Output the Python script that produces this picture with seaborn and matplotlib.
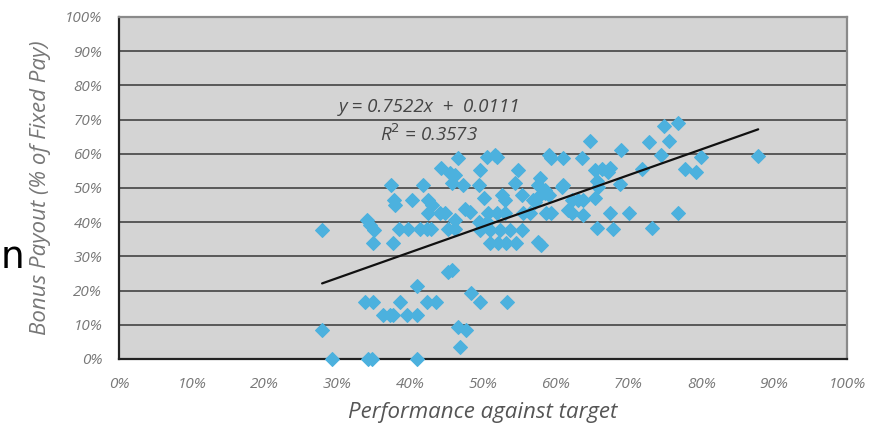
import numpy as np
import pandas as pd
import matplotlib
matplotlib.use("Agg")
import matplotlib.pyplot as plt
import seaborn as sns

# performance against target (%) and bonus payout (% of fixed pay)
PERF = [
    29.3, 34.2, 34.7, 40.9,
    46.8,
    27.9, 46.5, 47.7,
    36.3, 37.2, 37.7, 39.5, 40.9,
    33.8, 34.9, 38.6, 42.3, 43.6, 49.6, 53.3,
    48.4, 41.0, 45.2, 45.7,
    34.9, 37.7, 51.0, 52.1, 53.2, 54.6, 57.6, 58.0,
    27.9, 34.5, 35.0, 38.4, 39.7, 41.3, 42.3, 42.9, 45.2, 46.2, 49.6, 51.0,
    52.3, 53.7, 55.3, 65.6, 67.9, 73.2,
    34.0, 46.2, 49.4, 50.5,
    42.5, 44.1, 44.8, 47.5, 48.2, 50.7, 51.9, 53.0, 55.5, 56.5, 58.7, 59.4,
    61.7, 62.2, 63.8, 67.4, 70.0, 76.8,
    37.8, 37.9, 40.2, 42.5, 43.0, 50.1, 52.6, 53.0, 55.3, 56.9, 57.1, 57.4,
    58.5, 59.0, 62.2, 63.1, 63.8, 65.4,
    37.4, 41.8, 45.7, 47.3, 49.4, 54.4, 57.6, 58.5, 60.8, 61.0, 65.6, 65.8, 68.8,
    44.3, 45.5, 46.2, 49.6, 54.8, 57.8, 65.4, 66.3, 67.2, 67.4, 71.8, 77.7, 79.3,
    46.6, 50.5, 51.6, 51.9, 59.0, 59.4, 61.0, 63.6, 74.5, 80.0, 87.8,
    69.0,
    64.7, 72.8, 75.6,
    74.8, 76.8,
]
PAYOUT = [
    0, 0, 0, 0,
    3.6,
    8.5, 9.4, 8.5,
    12.9, 12.9, 12.9, 12.9, 12.9,
    16.8, 16.8, 16.8, 16.8, 16.8, 16.8, 16.8,
    19.2, 21.4, 25.5, 26.0,
    33.8, 33.8, 33.8, 33.8, 33.8, 33.8, 34.3, 33.3,
    37.8, 39.2, 37.7, 37.9, 37.9, 37.9, 37.9, 37.9, 37.9, 37.9, 37.7, 37.7,
    37.7, 37.7, 37.7, 38.2, 37.9, 38.2,
    40.6, 40.6, 40.1, 40.1,
    42.6, 42.6, 42.6, 44.0, 43.0, 42.6, 42.6, 42.6, 42.6, 42.6, 42.6, 42.6,
    43.6, 42.6, 42.1, 42.6, 42.6, 42.6,
    46.5, 45.0, 46.5, 46.5, 45.0, 47.0, 48.0, 46.5, 48.0, 46.5, 46.0, 47.0,
    48.4, 48.0, 46.5, 46.5, 46.5, 47.0,
    50.9, 50.9, 51.4, 50.9, 50.9, 51.4, 50.9, 49.4, 50.4, 51.0, 51.9, 50.4, 51.2,
    55.8, 54.3, 53.8, 55.3, 55.3, 52.8, 55.3, 55.5, 54.8, 55.8, 55.5, 55.5, 54.8,
    58.7, 59.2, 59.6, 59.2, 59.6, 58.7, 58.7, 58.7, 59.6, 59.2, 59.4,
    61.1,
    63.8, 63.4, 63.8,
    68.2, 68.9,
]

# trendline as printed on the chart
SLOPE = 0.7522
INTERCEPT = 0.0111
R2 = 0.3573

X_TICKS = np.arange(0, 101, 10)
Y_TICKS = np.arange(0, 101, 10)

FONT = ["Open Sans", "DejaVu Sans"]
DOT_BLUE = "#4cb1de"


def plot_bonus():
    df = pd.DataFrame({"perf": PERF, "payout": PAYOUT})

    sns.set_style("white")
    plt.rcParams["font.family"] = FONT

    fig = plt.figure(figsize=(8.8, 4.29), dpi=100)
    ax = fig.add_axes([0.1352, 0.1632, 0.8273, 0.7972])
    ax.set_facecolor("#d4d4d4")

    # horizontal grid lines drawn under the points
    for yv in Y_TICKS[1:-1]:
        ax.axhline(yv, color="#4e4e4e", lw=1.3, zorder=1)

    sns.scatterplot(data=df, x="perf", y="payout", marker="D", s=50,
                    color=DOT_BLUE, edgecolor=DOT_BLUE, linewidth=0.8,
                    ax=ax, zorder=3, clip_on=False)

    # fitted line between the extreme x values
    xs = np.array([df["perf"].min(), df["perf"].max()])
    ys = (SLOPE * xs / 100 + INTERCEPT) * 100
    ax.plot(xs, ys, color="#111111", lw=1.6, zorder=4)

    ax.text(42.6, 73.7, f"y = {SLOPE:.4f}x  +  {INTERCEPT:.4f}", ha="center", va="center",
            fontsize=13.5, style="italic", color="#444444", zorder=5)
    ax.text(42.6, 65.8, f"R$^2$ = {R2:.4f}", ha="center", va="center",
            fontsize=13.5, style="italic", color="#444444", zorder=5)

    ax.set_xlim(0, 100)
    ax.set_ylim(0, 100)
    ax.set_xticks(X_TICKS)
    ax.set_yticks(Y_TICKS)
    ax.set_xticklabels([f"{t}%" for t in X_TICKS], fontsize=11, style="italic", color="#777777")
    ax.set_yticklabels([f"{t}%" for t in Y_TICKS], fontsize=11, style="italic", color="#777777")
    ax.tick_params(axis="x", direction="in", length=6, width=1.2, color="#333333", pad=13)
    ax.tick_params(axis="y", length=0, pad=12)

    for side in ["left", "bottom"]:
        ax.spines[side].set_color("#222222")
        ax.spines[side].set_linewidth(1.6)
    for side in ["top", "right"]:
        ax.spines[side].set_color("#8a8a8a")
        ax.spines[side].set_linewidth(1.6)

    ax.set_xlabel("Performance against target", fontsize=16, style="italic",
                  color="#555555", labelpad=7)
    ax.set_ylabel("Bonus Payout (% of Fixed Pay)", fontsize=16, style="italic",
                  color="#777777", labelpad=10)

    # leftover glyph from the slide the chart was cut from
    fig.text(1 / 880, 1 - 268 / 429, "n", ha="left", va="baseline",
             fontsize=27, color="black", family=["DejaVu Sans"])

    fig.savefig("out.png", dpi=100)
    plt.close(fig)


if __name__ == "__main__":
    plot_bonus()
